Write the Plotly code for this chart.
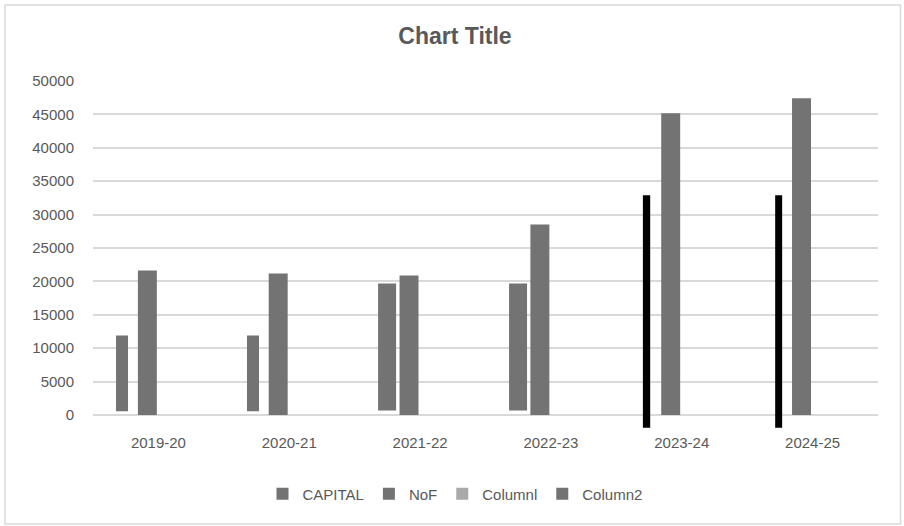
import plotly.graph_objects as go

# Fiscal years and series values
years = ["2019-20", "2020-21", "2021-22", "2022-23", "2023-24", "2024-25"]
capital_low = [570, 570, 670, 670, -1900, -1900]
capital_high = [11900, 11900, 19700, 19700, 32900, 32900]
nof = [21640, 21190, 20890, 28530, 45170, 47400]
column1 = [0, 0, 0, 0, 0, 0]
column2 = [0, 0, 0, 0, 0, 0]
y_ticks = [0, 5000, 10000, 15000, 20000, 25000, 30000, 35000, 40000, 45000, 50000]

GREY = "#737373"
TEXT = "#595959"
FONT = "Liberation Sans, Arial, sans-serif"

fig = go.Figure()

fig.add_trace(go.Bar(
    name="CAPITAL", x=years,
    y=[h - l for h, l in zip(capital_high, capital_low)],
    base=capital_low,
    offset=[-0.324, -0.323, -0.321, -0.320, -0.297, -0.286],
    width=[0.0917, 0.0917, 0.1376, 0.1376, 0.0558, 0.0535],
    marker=dict(color=[GREY, GREY, GREY, GREY, "#000000", "#000000"], line=dict(width=0)),
))
fig.add_trace(go.Bar(
    name="NoF", x=years, y=nof,
    offset=-0.157, width=0.145,
    marker=dict(color=GREY, line=dict(width=0)),
))
fig.add_trace(go.Bar(
    name="Columnl", x=years, y=column1,
    offset=0.0, width=0.145,
    marker=dict(color="#a9a9a9", line=dict(width=0)),
))
fig.add_trace(go.Bar(
    name="Column2", x=years, y=column2,
    offset=0.145, width=0.145,
    marker=dict(color=GREY, line=dict(width=0)),
))

# Value axis runs slightly below zero so the black bars can dip under it
Y_MIN, Y_MAX = -1950, 50000
px_per_unit = (414.5 - 80.6) / 50000
L, R = 93, 904 - 878
T = 80.6
bottom_px = 414.5 - Y_MIN * px_per_unit
B = 526 - bottom_px
pw, ph = 904 - L - R, bottom_px - T


def py(pixel_y):
    # page pixel row -> paper fraction
    return (bottom_px - pixel_y) / ph


fig.update_layout(
    width=904, height=526,
    margin=dict(l=L, r=R, t=T, b=B, pad=0),
    paper_bgcolor="white", plot_bgcolor="white",
    font=dict(family=FONT, size=15, color=TEXT),
    title=dict(text="<b>Chart Title</b>", x=455 / 904, xanchor="center",
               y=1 - 36 / 526, yanchor="middle",
               font=dict(family=FONT, size=23, color=TEXT)),
    barmode="overlay",
    showlegend=True,
    legend=dict(orientation="h", x=(455 - L) / pw, xanchor="center",
                y=py(493.5), yanchor="middle",
                font=dict(family=FONT, size=15, color=TEXT),
                itemwidth=30, traceorder="normal", bgcolor="rgba(0,0,0,0)"),
    xaxis=dict(type="category", showgrid=False, zeroline=False, showline=False,
               ticks="", ticklabelstandoff=4,
               tickfont=dict(family=FONT, size=15, color=TEXT)),
    yaxis=dict(range=[Y_MIN, Y_MAX], tickvals=y_ticks, ticktext=[str(v) for v in y_ticks],
               showgrid=True, gridcolor="#d9d9d9", gridwidth=1.5,
               zeroline=False, showline=False, ticks="",
               ticklabelstandoff=18,
               tickfont=dict(family=FONT, size=15, color=TEXT)),
    shapes=[dict(type="rect", xref="paper", yref="paper",
                 x0=(5 - L) / pw, x1=(900.5 - L) / pw,
                 y0=py(523.5), y1=py(4.5),
                 line=dict(color="#d9d9d9", width=1.5), layer="below")],
)

fig.write_html("out.html")
